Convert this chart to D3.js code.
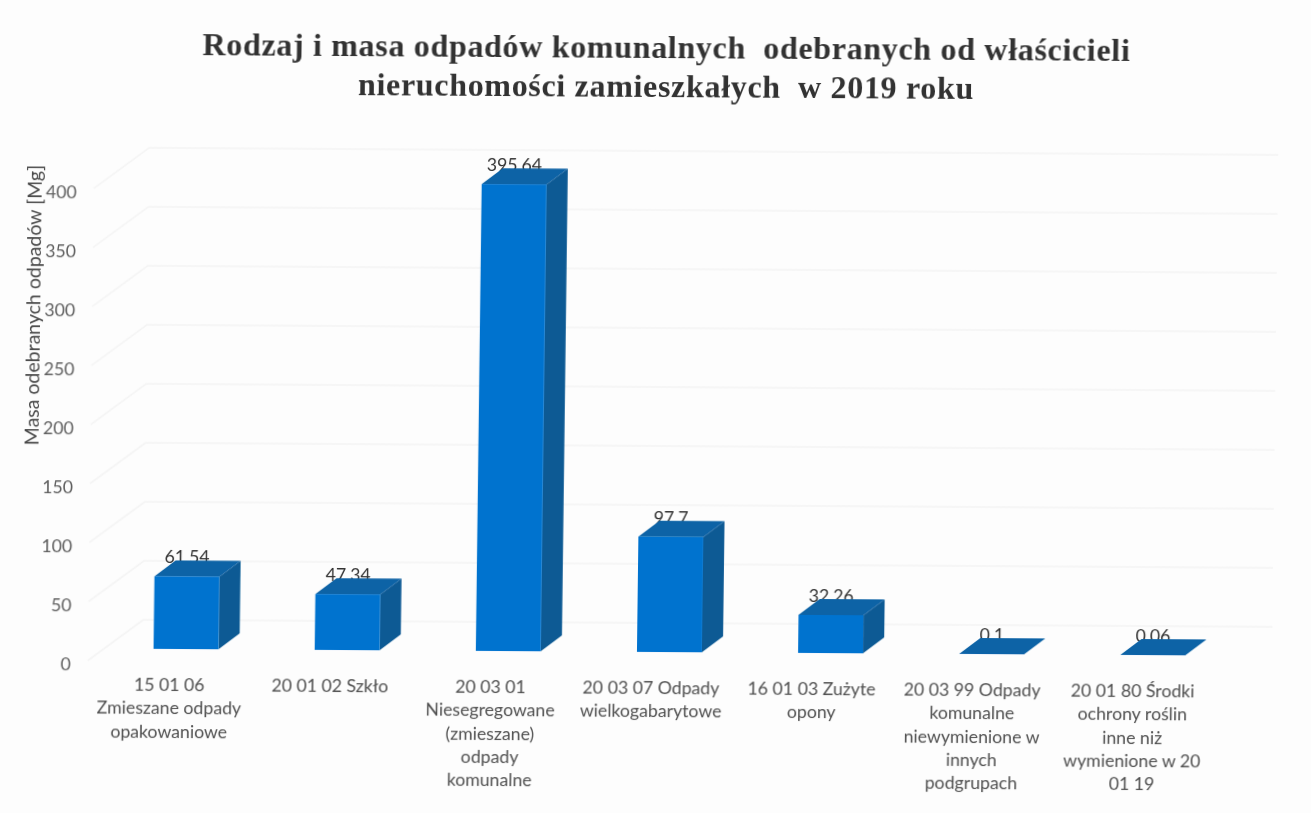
<!DOCTYPE html>
<html lang="pl">
<head>
<meta charset="utf-8">
<title>Rodzaj i masa odpadów komunalnych</title>
<script src="https://cdn.jsdelivr.net/npm/d3@7"></script>
<style>
  body { margin: 0; background: #fdfdfd; }
  text { font-family: Lato, sans-serif; }
</style>
</head>
<body>
<div id="chart"></div>
<script>
// Data
const categories = [
    ["15 01 06", "Zmieszane odpady", "opakowaniowe"],
    ["20 01 02 Szkło"],
    ["20 03 01", "Niesegregowane", "(zmieszane)", "odpady", "komunalne"],
    ["20 03 07 Odpady", "wielkogabarytowe"],
    ["16 01 03 Zużyte", "opony"],
    ["20 03 99 Odpady", "komunalne", "niewymienione w", "innych", "podgrupach"],
    ["20 01 80 Środki", "ochrony roślin", "inne niż", "wymienione w 20", "01 19"]
];
const values = [61.54, 47.34, 395.64, 97.7, 32.26, 0.1, 0.06];
const valueLabels = ["61,54", "47,34", "395,64", "97,7", "32,26", "0,1", "0,06"];
const yTicks = [0, 50, 100, 150, 200, 250, 300, 350, 400];
const titleLines = [
    "Rodzaj i masa odpadów komunalnych  odebranych od właścicieli",
    "nieruchomości zamieszkałych  w 2019 roku"
];
const yTitle = "Masa odebranych odpadów [Mg]";

const width = 1311, height = 813;
const ids = categories.map((d, i) => i);

// 3D look: wall offset and bar depth
const wall = { dx: 55, dy: -41 }, barDepth = { dx: 21, dy: -16 }, floorLift = 12;

const svg = d3.select("#chart")
    .append("svg")
    .attr("width", width)
    .attr("height", height)
    .style("display", "block");

// Soft edge of the scan
svg.append("filter")
    .attr("id", "scan")
    .append("feGaussianBlur")
    .attr("stdDeviation", 0.55);

// The page was scanned slightly crooked, and a bit skewed too
const g = svg.append("g")
    .attr("filter", "url(#scan)")
    .attr("transform", `translate(${width / 2},${height / 2}) skewX(-0.36) rotate(0.36) translate(${-width / 2},${-height / 2})`);

// Y scale
const y = d3.scaleLinear()
    .domain([0, 400])
    .range([664, 192]);

// X scale for the axis labels
const xLabels = d3.scaleBand()
    .domain(ids)
    .range([92.5, 1216.5]);

// X scale for the bars (they sit a bit right of their labels)
const x = d3.scaleBand()
    .domain(ids)
    .range([108.5, 1236.5])
    .paddingInner(0.597)
    .paddingOuter(0.2985);

// Wall gridlines with the short floor diagonal
const gridX0 = 91, gridX1 = 1275;
const grid = g.append("g")
    .attr("fill", "none")
    .attr("stroke", "#f3f3f3")
    .attr("stroke-width", 1.5);
grid.selectAll(".grid")
    .data(yTicks)
    .enter().append("path")
    .attr("class", "grid")
    .attr("d", d => {
        const yy = y(d);
        return `M${gridX0},${yy}L${gridX0 + wall.dx},${yy + wall.dy}L${gridX1},${yy + wall.dy}`;
    });

// Y axis
const yAxis = g.append("g")
    .attr("transform", "translate(74,4)")
    .call(d3.axisLeft(y).tickValues(yTicks).tickSize(0).tickPadding(0));
yAxis.select(".domain").remove();
yAxis.selectAll("text")
    .style("font-family", "Lato, sans-serif")
    .style("font-size", "17.7px")
    .attr("fill", "#5e5e5e");

// Y axis title
g.append("text")
    .attr("transform", "translate(39,309) rotate(-90)")
    .attr("text-anchor", "middle")
    .attr("fill", "#4a4a4a")
    .style("font-size", "19.5px")
    .text(yTitle);

// X axis labels, one tspan per line
const xAxis = g.append("g")
    .attr("transform", "translate(0,670)")
    .call(d3.axisBottom(xLabels).tickSize(0).tickFormat(""));
xAxis.select(".domain").remove();
xAxis.selectAll(".tick text")
    .attr("y", 24)
    .attr("dy", 0)
    .style("font-family", "Lato, sans-serif")
    .style("font-size", "17.7px")
    .attr("fill", "#505050")
    .each(function (d) {
        d3.select(this).selectAll("tspan")
            .data(categories[d])
            .enter().append("tspan")
            .attr("x", 0)
            .attr("y", (line, i) => 24 + i * 23.3)
            .text(line => line);
    });

// Value labels go under the bars, the top face cuts their lower edge
g.selectAll(".value")
    .data(ids)
    .enter().append("text")
    .attr("class", "value")
    .attr("x", i => x(i) + x.bandwidth() / 2)
    .attr("y", i => y(values[i]) - floorLift - 13)
    .attr("text-anchor", "middle")
    .attr("fill", "#333")
    .style("font-size", "17.7px")
    .text(i => valueLabels[i]);

// Bars: side, top and front face
const bars = g.selectAll(".bar")
    .data(ids)
    .enter().append("g")
    .attr("class", "bar");

bars.append("path")
    .attr("fill", "#0c5a94")
    .attr("d", i => {
        const x1 = x(i) + x.bandwidth();
        const top = y(values[i]) - floorLift, base = y(0) - floorLift;
        return `M${x1},${base}L${x1 + barDepth.dx},${base + barDepth.dy}L${x1 + barDepth.dx},${top + barDepth.dy}L${x1},${top}Z`;
    });

bars.append("path")
    .attr("fill", "#0b63a6")
    .attr("d", i => {
        const x0 = x(i), x1 = x0 + x.bandwidth();
        const top = y(values[i]) - floorLift;
        return `M${x0},${top}L${x1},${top}L${x1 + barDepth.dx},${top + barDepth.dy}L${x0 + barDepth.dx},${top + barDepth.dy}Z`;
    });

bars.append("rect")
    .attr("fill", "#0673cf")
    .attr("x", i => x(i))
    .attr("y", i => y(values[i]) - floorLift)
    .attr("width", x.bandwidth())
    .attr("height", i => y(0) - y(values[i]));

// Title
g.selectAll(".title")
    .data(titleLines)
    .enter().append("text")
    .attr("class", "title")
    .attr("x", 662)
    .attr("y", (d, i) => 58 + i * 38.5)
    .attr("text-anchor", "middle")
    .attr("fill", "#333")
    .style("font-family", "'Liberation Serif', serif")
    .style("font-weight", "bold")
    .style("font-size", "32px")
    .style("letter-spacing", "0.68px")
    .style("white-space", "pre")
    .text(d => d);
</script>
</body>
</html>
